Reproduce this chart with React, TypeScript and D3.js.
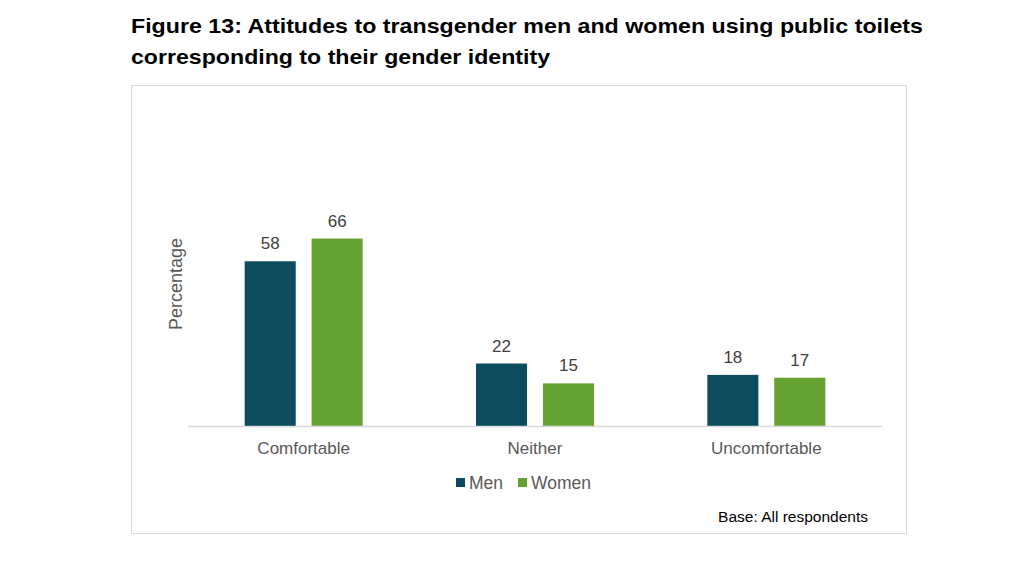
import * as d3 from "d3";

const width = 1023;
const height = 573;
const frame = { x: 131, y: 85, w: 775, h: 448 };
const plot = { left: 188, right: 882, top: 142, bottom: 426 };

const categories = ["Comfortable", "Neither", "Uncomfortable"];
const seriesNames = ["Men", "Women"];
const men = [58, 22, 18];
const women = [66, 15, 17];
const colors = ["#0b4c5f", "#65a231"];

const font = "Arial, 'Liberation Sans', sans-serif";

const App = () => {
  const xScale = d3
    .scaleBand<string>()
    .domain(categories)
    .range([plot.left, plot.right])
    .paddingInner(0)
    .paddingOuter(0);

  // two bars per group, 52px wide with a 14px gap
  const groupWidth = 118;
  const inner = d3
    .scaleBand<string>()
    .domain(seriesNames)
    .range([0, groupWidth])
    .paddingInner(14 / 59)
    .paddingOuter(0);

  const yScale = d3
    .scaleLinear()
    .domain([0, 100])
    .range([plot.bottom, plot.top]);

  const values = [men, women];

  return (
    <div style={{ position: "absolute", left: 0, top: 0 }}>
      <svg width={width} height={height} style={{ display: "block" }}>
        <rect width={width} height={height} fill="#fff" />
        <text
          x={131}
          y={32.5}
          fontFamily={font}
          fontWeight="bold"
          fontSize={21}
          fill="#000"
          textLength={792}
          lengthAdjust="spacingAndGlyphs"
        >
          Figure 13: Attitudes to transgender men and women using public toilets
        </text>
        <text
          x={131}
          y={64}
          fontFamily={font}
          fontWeight="bold"
          fontSize={21}
          fill="#000"
          textLength={419}
          lengthAdjust="spacingAndGlyphs"
        >
          corresponding to their gender identity
        </text>

        <rect
          x={frame.x + 0.5}
          y={frame.y + 0.5}
          width={frame.w}
          height={frame.h}
          fill="none"
          stroke="#d9d9d9"
        />

        {categories.map((c, i) => {
          const gx = (xScale(c) ?? 0) + (xScale.bandwidth() - groupWidth) / 2;
          return (
            <g key={c}>
              {seriesNames.map((s, j) => {
                const v = values[j][i];
                const x = gx + (inner(s) ?? 0);
                return (
                  <g key={s}>
                    <rect
                      x={x}
                      y={yScale(v)}
                      width={inner.bandwidth()}
                      height={yScale(0) - yScale(v)}
                      fill={colors[j]}
                    />
                    <text
                      x={x + inner.bandwidth() / 2}
                      y={yScale(v) - 12}
                      textAnchor="middle"
                      fontFamily={font}
                      fontSize={17}
                      fill="#404040"
                    >
                      {v}
                    </text>
                  </g>
                );
              })}
              <text
                x={(xScale(c) ?? 0) + xScale.bandwidth() / 2}
                y={454}
                textAnchor="middle"
                fontFamily={font}
                fontSize={17}
                fill="#595959"
              >
                {c}
              </text>
            </g>
          );
        })}

        <line
          x1={plot.left}
          x2={plot.right}
          y1={plot.bottom + 0.5}
          y2={plot.bottom + 0.5}
          stroke="#d9d9d9"
          strokeWidth={1.5}
        />

        <text
          transform={`translate(182, 284) rotate(-90)`}
          textAnchor="middle"
          fontFamily={font}
          fontSize={18}
          fill="#595959"
        >
          Percentage
        </text>

        {seriesNames.map((s, j) => {
          const lx = [456, 518][j];
          return (
            <g key={s}>
              <rect x={lx} y={478} width={9} height={9} fill={colors[j]} />
              <text x={lx + 13} y={488.5} fontFamily={font} fontSize={17.5} fill="#595959">
                {s}
              </text>
            </g>
          );
        })}

        <text x={868} y={521.5} textAnchor="end" fontFamily={font} fontSize={15.5} fill="#000">
          Base: All respondents
        </text>
      </svg>
    </div>
  );
};

export default App;
